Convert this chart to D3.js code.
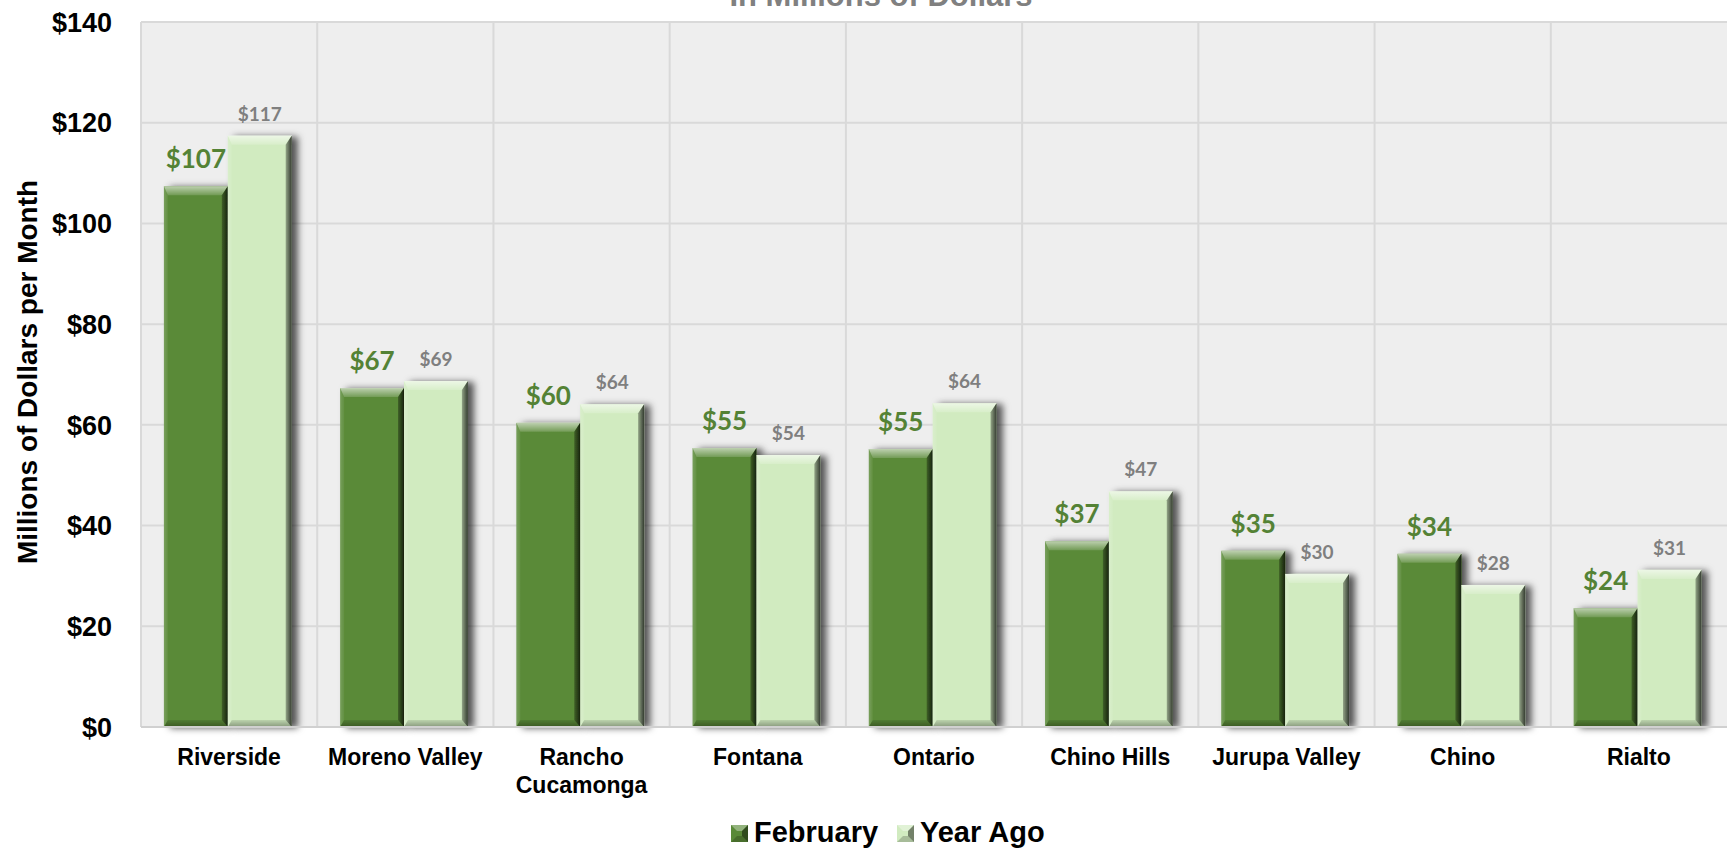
<!doctype html>
<html lang="en">
<head>
  <meta charset="utf-8">
  <title>Sales by City - In Millions of Dollars</title>
  <style>
   body {
       margin: 0;
       background-color: #ffffff;
   }
   svg {
       display: block;
   }
   .axis-label {
       font-family: Arial, "Liberation Sans", sans-serif;
       font-weight: 700;
       fill: #000;
   }
  </style>
</head>
<body>
  <svg id="chart" width="1727" height="848" xmlns="http://www.w3.org/2000/svg"></svg>
  <script src="https://cdn.jsdelivr.net/npm/d3@7"></script>
  <script>
   // values
   var cities = ["Riverside", "Moreno Valley", "Rancho Cucamonga", "Fontana", "Ontario",
                 "Chino Hills", "Jurupa Valley", "Chino", "Rialto"];
   var cityLines = [["Riverside"], ["Moreno Valley"], ["Rancho", "Cucamonga"], ["Fontana"], ["Ontario"],
                    ["Chino Hills"], ["Jurupa Valley"], ["Chino"], ["Rialto"]];
   var february = [107.4, 67.3, 60.4, 55.4, 55.2, 36.9, 35.0, 34.4, 23.6];
   var yearAgo = [117.4, 68.7, 64.1, 54.0, 64.3, 46.8, 30.4, 28.2, 31.2];
   var seriesNames = ["February", "Year Ago"];
   var yTicks = [0, 20, 40, 60, 80, 100, 120, 140];

   var plot = {left: 141, right: 1727, top: 22, bottom: 727};

   var svg = d3.select("#chart");
   var fmt = d3.format("$,.0f");

   var x = d3.scaleBand()
             .domain(cities)
             .range([plot.left, plot.right]);

   var xs = d3.scaleBand()
              .domain(seriesNames)
              .range([x.bandwidth() * 0.13, x.bandwidth() * 0.855]);

   var y = d3.scaleLinear()
             .domain([0, 140])
             .range([plot.bottom, plot.top]);

   var colors = {
       "February": {fill: "#5a8a38", label: "#548235", labelSize: 26, labelGap: 18},
       "Year Ago": {fill: "#d1ebc0", label: "#7f7f7f", labelSize: 19, labelGap: 15}
   };

   var defs = svg.append("defs");
   var shadow = defs.append("filter")
                    .attr("id", "barshadow")
                    .attr("x", "-20%").attr("y", "-10%")
                    .attr("width", "160%").attr("height", "120%");
   shadow.append("feDropShadow")
         .attr("dx", 6).attr("dy", 1)
         .attr("stdDeviation", 3.5)
         .attr("flood-color", "#000")
         .attr("flood-opacity", 0.65);

   function grad(id, x2, y2, stops) {
       var g = defs.append("linearGradient")
                   .attr("id", id)
                   .attr("x1", 0).attr("y1", 0)
                   .attr("x2", x2).attr("y2", y2);
       stops.forEach(function(s) {
           g.append("stop").attr("offset", s[0])
            .attr("stop-color", s[1]).attr("stop-opacity", s[2]);
       });
   }
   grad("bevTop", 0, 1, [[0, "#fff", 0.6], [1, "#fff", 0.15]]);
   grad("bevLeft", 1, 0, [[0, "#fff", 0.18], [1, "#fff", 0.05]]);
   grad("bevRight", 1, 0, [[0, "#000", 0.3], [1, "#000", 0.75]]);
   grad("bevBottom", 0, 1, [[0, "#000", 0.1], [1, "#000", 0.35]]);

   // plot background
   svg.append("rect")
      .attr("x", plot.left).attr("y", plot.top)
      .attr("width", plot.right - plot.left)
      .attr("height", plot.bottom - plot.top)
      .attr("fill", "#eeeeee");

   // horizontal grid
   svg.append("g")
      .selectAll("line")
      .data(yTicks)
      .enter().append("line")
      .attr("x1", plot.left).attr("x2", plot.right)
      .attr("y1", function(d) { return y(d); })
      .attr("y2", function(d) { return y(d); })
      .attr("stroke", "#d9d9d9")
      .attr("stroke-width", 2);

   // vertical grid at category boundaries
   svg.append("g")
      .selectAll("line")
      .data(cities)
      .enter().append("line")
      .attr("x1", function(d) { return x(d); })
      .attr("x2", function(d) { return x(d); })
      .attr("y1", plot.top).attr("y2", plot.bottom)
      .attr("stroke", "#d9d9d9")
      .attr("stroke-width", 2);

   // y axis tick labels
   svg.append("g")
      .selectAll("text")
      .data(yTicks)
      .enter().append("text")
      .attr("class", "axis-label")
      .attr("x", 112)
      .attr("y", function(d) { return y(d); })
      .attr("dy", "0.36em")
      .attr("text-anchor", "end")
      .style("font-size", "27px")
      .text(function(d) { return "$" + d; });

   // y axis title
   svg.append("text")
      .attr("class", "axis-label")
      .attr("transform", "translate(37,372) rotate(-90)")
      .attr("text-anchor", "middle")
      .style("font-size", "28px")
      .text("Millions of Dollars per Month");

   // chart title, mostly cut off at the top as in the original
   svg.append("text")
      .attr("x", 881).attr("y", 6)
      .attr("text-anchor", "middle")
      .style("font-family", "Arial, 'Liberation Sans', sans-serif")
      .style("font-weight", 700)
      .style("font-size", "31px")
      .attr("fill", "#808080")
      .text("In Millions of Dollars");

   function drawBar(g, bx, by, bw, bh, fill) {
       var t = 9, l = 4, r = 6, b = 7;
       if (bh < t + b + 2) { t = b = Math.max(1, bh / 3); }
       g.append("rect")
        .attr("x", bx).attr("y", by)
        .attr("width", bw).attr("height", bh)
        .attr("fill", fill);
       var pts = function(a) { return a.map(function(p) { return p.join(","); }).join(" "); };
       g.append("polygon").attr("fill", "url(#bevTop)")
        .attr("points", pts([[bx, by], [bx + bw, by], [bx + bw - r, by + t], [bx + l, by + t]]));
       g.append("polygon").attr("fill", "url(#bevLeft)")
        .attr("points", pts([[bx, by], [bx + l, by + t], [bx + l, by + bh - b], [bx, by + bh]]));
       g.append("polygon").attr("fill", "url(#bevRight)")
        .attr("points", pts([[bx + bw, by], [bx + bw, by + bh], [bx + bw - r, by + bh - b], [bx + bw - r, by + t]]));
       g.append("polygon").attr("fill", "url(#bevBottom)")
        .attr("points", pts([[bx, by + bh], [bx + l, by + bh - b], [bx + bw - r, by + bh - b], [bx + bw, by + bh]]));
   }

   var rows = cities.map(function(c, i) {
       return {city: c, values: [
           {series: "February", value: february[i]},
           {series: "Year Ago", value: yearAgo[i]}
       ]};
   });

   var groups = svg.append("g").attr("class", "bars")
                   .selectAll("g.city")
                   .data(rows)
                   .enter().append("g")
                   .attr("class", "city")
                   .attr("transform", function(d) { return "translate(" + x(d.city) + ",0)"; });

   groups.each(function(d) {
       var g = d3.select(this);
       d.values.forEach(function(v) {
           var bg = g.append("g").attr("filter", "url(#barshadow)");
           drawBar(bg, xs(v.series), y(v.value), xs.bandwidth(), y(0) - y(v.value), colors[v.series].fill);
       });
       d.values.forEach(function(v) {
           var c = colors[v.series];
           g.append("text")
            .attr("x", xs(v.series) + xs.bandwidth() / 2)
            .attr("y", y(v.value) - c.labelGap)
            .attr("text-anchor", "middle")
            .style("font-family", "Lato, 'Open Sans', sans-serif")
            .style("font-weight", 700)
            .style("font-size", c.labelSize + "px")
            .attr("fill", c.label)
            .text(fmt(v.value));
       });
   });

   // x axis baseline
   svg.append("line")
      .attr("x1", plot.left).attr("x2", plot.right)
      .attr("y1", y(0)).attr("y2", y(0))
      .attr("stroke", "#d0d0d0").attr("stroke-width", 2);

   // category labels
   svg.append("g")
      .selectAll("text")
      .data(cities)
      .enter().append("text")
      .attr("class", "axis-label")
      .attr("x", function(d) { return x(d) + x.bandwidth() / 2; })
      .attr("y", 765)
      .attr("text-anchor", "middle")
      .style("font-size", "23px")
      .each(function(d, i) {
          var t = d3.select(this);
          cityLines[i].forEach(function(line, k) {
              t.append("tspan")
               .attr("x", x(d) + x.bandwidth() / 2)
               .attr("dy", k === 0 ? 0 : 28)
               .text(line);
          });
      });

   // legend
   var legend = svg.append("g").attr("transform", "translate(731,825)");
   var legendX = d3.scaleOrdinal().domain(seriesNames).range([0, 166]);
   seriesNames.forEach(function(s) {
       var lg = legend.append("g").attr("transform", "translate(" + legendX(s) + ",0)");
       lg.append("rect").attr("width", 17).attr("height", 17).attr("fill", colors[s].fill);
       lg.append("polygon").attr("points", "0,0 17,0 11,6 6,6").attr("fill", "#fff").attr("opacity", 0.35);
       lg.append("polygon").attr("points", "17,0 17,17 11,11 11,6").attr("fill", "#000").attr("opacity", 0.45);
       lg.append("polygon").attr("points", "0,17 17,17 11,11 6,11").attr("fill", "#000").attr("opacity", 0.2);
       lg.append("text")
         .attr("class", "axis-label")
         .attr("x", 23).attr("y", 17)
         .style("font-size", "29px")
         .text(s);
   });
  </script>
</body>
</html>
